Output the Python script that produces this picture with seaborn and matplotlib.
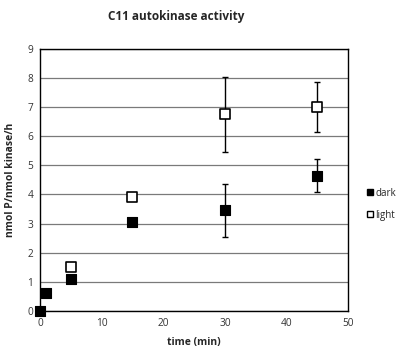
import matplotlib
matplotlib.use("Agg")
import matplotlib.pyplot as plt
import seaborn as sns
import pandas as pd
from matplotlib.lines import Line2D

# time course (min) and activity (nmol P / nmol kinase / h)
dark_time = [0, 1, 5, 15, 30, 45]
dark_value = [0.0, 0.6, 1.1, 3.05, 3.45, 4.65]
dark_err = [0.0, 0.0, 0.0, 0.1, 0.92, 0.57]

light_time = [5, 15, 30, 45]
light_value = [1.5, 3.93, 6.75, 7.0]
light_err = [0.03, 0.08, 1.28, 0.85]

sns.set_style("white")
plt.rcParams["font.family"] = ["Open Sans", "DejaVu Sans"]

fig = plt.figure(figsize=(4.09, 3.49), dpi=100)
ax = fig.add_axes([0.098, 0.109, 0.753, 0.751])

df = pd.concat([
    pd.DataFrame({"time": dark_time, "value": dark_value, "err": dark_err, "cond": "dark"}),
    pd.DataFrame({"time": light_time, "value": light_value, "err": light_err, "cond": "light"}),
])

for cond in ["dark", "light"]:
    sub = df[df["cond"] == cond]
    ax.errorbar(sub["time"], sub["value"], yerr=sub["err"], fmt="none",
                ecolor="black", elinewidth=1.0, capsize=2.5, capthick=1.0, zorder=3)

sns.scatterplot(data=df[df["cond"] == "dark"], x="time", y="value", ax=ax,
                marker="s", s=58, color="black", edgecolor="black", linewidth=0.8,
                zorder=4, legend=False, clip_on=False)
sns.scatterplot(data=df[df["cond"] == "light"], x="time", y="value", ax=ax,
                marker="s", s=48, color="white", edgecolor="black", linewidth=1.2,
                zorder=5, legend=False, clip_on=False)

ax.set_xlim(0, 50)
ax.set_ylim(0, 9)
ax.set_xticks(range(0, 51, 10))
ax.set_yticks(range(0, 10))
ax.yaxis.grid(True, color="#7a7a7a", linewidth=0.9)
ax.set_axisbelow(True)
for sp in ax.spines.values():
    sp.set_color("black")
    sp.set_linewidth(1.0)
ax.tick_params(axis="both", labelsize=7.3, length=0, pad=5, colors="#333333")

ax.set_xlabel("time (min)", fontsize=7.5, fontweight="bold", labelpad=6)
ax.set_ylabel("nmol P/nmol kinase/h", fontsize=7.5, fontweight="bold", labelpad=8)
fig.suptitle("C11 autokinase activity", x=0.43, y=0.97, fontsize=8.5, fontweight="bold")

handles = [
    Line2D([], [], marker="s", linestyle="none", markerfacecolor="black",
           markeredgecolor="black", markersize=5, label="dark"),
    Line2D([], [], marker="s", linestyle="none", markerfacecolor="white",
           markeredgecolor="black", markersize=5, label="light"),
]
fig.legend(handles=handles, loc="center left", bbox_to_anchor=(0.885, 0.415),
           frameon=False, fontsize=7, handlelength=0.6, handletextpad=0.3,
           labelspacing=1.1, borderpad=0)

fig.savefig("out.png", dpi=100)
